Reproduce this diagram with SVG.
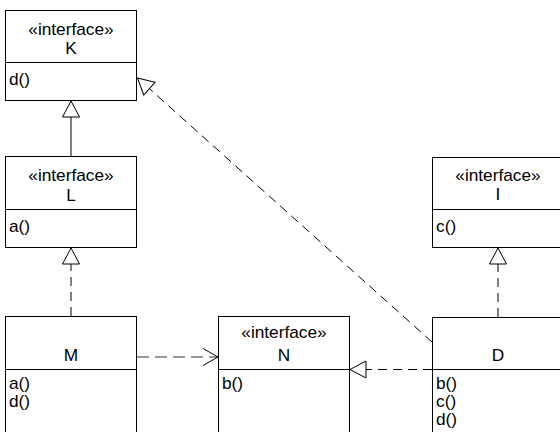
<svg xmlns="http://www.w3.org/2000/svg" width="560" height="432" viewBox="0 0 560 432">
<style>
.box{fill:#fff;stroke:#000;stroke-width:1}
.sep{stroke:#000;stroke-width:1}
.t{font-family:"Liberation Sans",Arial,sans-serif;font-size:16px;fill:#000}
.c{text-anchor:middle}
.ln{fill:none;stroke:#000;stroke-width:1}
.dash{stroke-dasharray:9,6}
.dep{stroke-dasharray:12,6;stroke:#333}
</style>
<defs>
<marker id="tri" markerUnits="userSpaceOnUse" markerWidth="20" markerHeight="20" refX="16" refY="9" orient="auto" overflow="visible">
<path d="M0,0.5 L16,9 L0,17.5 Z" fill="#fff" stroke="#000" stroke-width="1"/>
</marker>
<marker id="open" markerUnits="userSpaceOnUse" markerWidth="20" markerHeight="20" refX="15" refY="9" orient="auto" overflow="visible">
<path d="M0,0.5 L15,9 L0,17.5" fill="none" stroke="#000" stroke-width="1"/>
</marker>
</defs>
<rect width="560" height="432" fill="#fff"/>
<g id="connectors">
<line class="ln" x1="71" y1="156" x2="71" y2="101" marker-end="url(#tri)"/>
<line class="ln dash" x1="71" y1="316" x2="71" y2="248" marker-end="url(#tri)"/>
<line class="ln dash" x1="498" y1="317" x2="498" y2="248" marker-end="url(#tri)"/>
<line class="ln dash" x1="432" y1="369.5" x2="350" y2="369.5" marker-end="url(#tri)"/>
<line class="ln dash" x1="432" y1="342" x2="137.5" y2="78" marker-end="url(#tri)"/>
<line class="ln dep" x1="137" y1="357" x2="218" y2="357" marker-end="url(#open)"/>
</g>
<g id="K">
<rect class="box" x="5.5" y="10.5" width="131" height="90"/>
<line class="sep" x1="5.5" y1="62.5" x2="136.5" y2="62.5"/>
<text class="t c" transform="translate(71,35) scale(1.08,1)">«interface»</text>
<text class="t c" transform="translate(71,54) scale(1.08,1)">K</text>
<text class="t" transform="translate(9,85) scale(1.08,1)">d()</text>
</g>
<g id="L">
<rect class="box" x="5.5" y="156.5" width="131" height="91"/>
<line class="sep" x1="5.5" y1="209.5" x2="136.5" y2="209.5"/>
<text class="t c" transform="translate(71,181) scale(1.08,1)">«interface»</text>
<text class="t c" transform="translate(71,200.5) scale(1.08,1)">L</text>
<text class="t" transform="translate(9,232) scale(1.08,1)">a()</text>
</g>
<g id="I">
<rect class="box" x="432.5" y="157.5" width="131" height="90"/>
<line class="sep" x1="432.5" y1="209.5" x2="563.5" y2="209.5"/>
<text class="t c" transform="translate(498,181) scale(1.08,1)">«interface»</text>
<text class="t c" transform="translate(498,200) scale(1.08,1)">I</text>
<text class="t" transform="translate(436,232) scale(1.08,1)">c()</text>
</g>
<g id="M">
<rect class="box" x="5.5" y="316.5" width="131" height="130"/>
<line class="sep" x1="5.5" y1="369.5" x2="136.5" y2="369.5"/>
<text class="t c" transform="translate(71,361) scale(1.08,1)">M</text>
<text class="t" transform="translate(9,389) scale(1.08,1)">a()</text>
<text class="t" transform="translate(9,407) scale(1.08,1)">d()</text>
</g>
<g id="N">
<rect class="box" x="218.5" y="316.5" width="131" height="130"/>
<line class="sep" x1="218.5" y1="369.5" x2="349.5" y2="369.5"/>
<text class="t c" transform="translate(284,338) scale(1.08,1)">«interface»</text>
<text class="t c" transform="translate(284,361) scale(1.08,1)">N</text>
<text class="t" transform="translate(222,389) scale(1.08,1)">b()</text>
</g>
<g id="D">
<rect class="box" x="432.5" y="317.5" width="131" height="130"/>
<line class="sep" x1="432.5" y1="369.5" x2="563.5" y2="369.5"/>
<text class="t c" transform="translate(498,361) scale(1.08,1)">D</text>
<text class="t" transform="translate(436,389) scale(1.08,1)">b()</text>
<text class="t" transform="translate(436,407) scale(1.08,1)">c()</text>
<text class="t" transform="translate(436,425) scale(1.08,1)">d()</text>
</g>
</svg>
